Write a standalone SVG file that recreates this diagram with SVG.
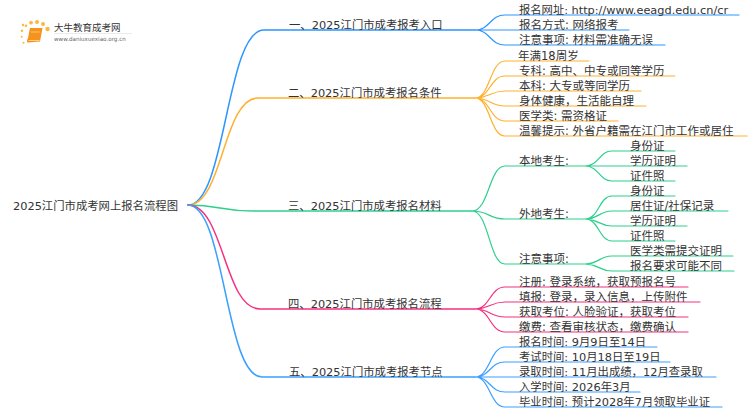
<svg xmlns="http://www.w3.org/2000/svg" width="750" height="410" viewBox="0 0 750 410">
<style>
text{font-family:"DejaVu Sans","Noto Sans CJK SC",sans-serif;font-size:11.5px;fill:#333}
.h text{font-size:11.35px}
.l{fill:none;stroke-linecap:round}
.m{stroke-width:1.5}
.s{stroke-width:1.2}
.a{stroke:#2d95ff}.b{stroke:#ffb02e}.c{stroke:#2ed08e}.d{stroke:#f5307f}.e{stroke:#3ba0ff}
</style>
<rect width="750" height="410" fill="#fff"/>
<g id="connectors">
<g class="l a"><path class="m" d="M188 205C226 205 226 30 264 30H475"/><path class="s" d="M475 30C490 30 490 15 505 15H739M475 30C490 30 490 30 505 30H629M475 30C490 30 490 45 505 45H665"/></g>
<g class="l b"><path class="m" d="M188 205C223 205 223 98 258 98H475"/><path class="s" d="M475 98C490 98 490 61 505 61H589M475 98C490 98 490 76 505 76H675M475 98C490 98 490 91 505 91H641M475 98C490 98 490 106 505 106H646M475 98C490 98 490 121 505 121H618M475 98C490 98 490 136 505 136H747"/></g>
<g class="l c"><path class="m" d="M188 205C220 205 220 211 253 211H472"/><path class="s" d="M472 211C489 211 489 166 505 166H585M472 211C489 211 489 219 505 219H585M472 211C489 211 489 264 505 264H585M585 166C599 166 599 151 612 151H675M585 166C599 166 599 166 612 166H687M585 166C599 166 599 181 612 181H675M585 219C599 219 599 196 612 196H675M585 219C599 219 599 211 612 211H728M585 219C599 219 599 226 612 226H687M585 219C599 219 599 241 612 241H675M585 264C599 264 599 256 612 256H733M585 264C599 264 599 271 612 271H734"/></g>
<g class="l d"><path class="m" d="M188 205C224 205 224 309 260 309H475"/><path class="s" d="M475 309C490 309 490 287 505 287H688M475 309C490 309 490 302 505 302H700M475 309C490 309 490 317 505 317H688M475 309C490 309 490 332 505 332H688"/></g>
<g class="l e"><path class="m" d="M188 205C225 205 225 377 262 377H475"/><path class="s" d="M475 377C490 377 490 347 505 347H657M475 377C490 377 490 362 505 362H670M475 377C490 377 490 377 505 377H716M475 377C490 377 490 392 505 392H640M475 377C490 377 490 407 505 407H722"/></g>
</g>
<g id="logo">
<g fill="#fbb83a"><circle cx="23" cy="25" r="1.200"/><circle cx="26" cy="25.700" r="1.300"/><circle cx="31" cy="22.700" r="1.900"/><circle cx="37" cy="22" r="2"/><circle cx="43" cy="24" r="2"/><circle cx="47.500" cy="29" r="2.200"/><circle cx="22" cy="30.700" r="1.200"/><circle cx="21.700" cy="36.700" r="1"/><circle cx="23.500" cy="42.700" r="1"/></g>
<path d="M30 28H42.500L40 41.500L28 42.500C26.500 42.500 27 40 28 38Z" fill="#f6921e"/><path d="M28.500 40.500H39.500" stroke="#fde3b0" stroke-width=".8"/><path d="M31 32H40" stroke="#fbc56a" stroke-width="1"/>
<text x="54" y="31" style="font-size:9.500px">大牛教育成考网</text>
<text x="54" y="41" style="font-size:5.600px;fill:#666">www.daniuxuexiao.org.cn</text>
<path d="M54 33.500H132" stroke="#ddd" stroke-width=".6"/>
</g>
<g class="h">
<g id="root"><text x="13" y="209.500">2025江门市成考网上报名流程图</text></g>
<g id="b1"><text x="289" y="28.500">一、2025江门市成考报考入口</text></g>
<g id="b2"><text x="288" y="96.500">二、2025江门市成考报名条件</text></g>
<g id="b3"><text x="288" y="209.500">三、2025江门市成考报名材料</text></g>
<g id="b4"><text x="288" y="307.500">四、2025江门市成考报名流程</text></g>
<g id="b5"><text x="289" y="375.500">五、2025江门市成考报考节点</text></g>
</g>
<g id="n1"><text x="519" y="13.500" style="font-size:11.300px">报名网址: http://www.eeagd.edu.cn/cr</text><text x="519" y="28.500">报名方式: 网络报考</text><text x="519" y="43.500">注意事项: 材料需准确无误</text></g>
<g id="n2"><text x="518" y="59.500">年满18周岁</text><text x="519" y="74.500">专科: 高中、中专或同等学历</text><text x="519" y="89.500">本科: 大专或等同学历</text><text x="519" y="104.500">身体健康，生活能自理</text><text x="519" y="119.500">医学类: 需资格证</text><text x="519" y="134.500">温馨提示: 外省户籍需在江门市工作或居住</text></g>
<g id="n3"><text x="519" y="164.500">本地考生:</text><text x="519" y="217.500">外地考生:</text><text x="519" y="262.500">注意事项:</text>
<text x="630" y="149.500">身份证</text><text x="630" y="164.500">学历证明</text><text x="630" y="179.500">证件照</text>
<text x="630" y="194.500">身份证</text><text x="630" y="209.500">居住证/社保记录</text><text x="630" y="224.500">学历证明</text><text x="630" y="239.500">证件照</text>
<text x="630" y="254.500">医学类需提交证明</text><text x="630" y="269.500">报名要求可能不同</text></g>
<g id="n4"><text x="519" y="285.500">注册: 登录系统，获取预报名号</text><text x="519" y="300.500">填报: 登录，录入信息，上传附件</text><text x="519" y="315.500">获取考位: 人脸验证，获取考位</text><text x="519" y="330.500">缴费: 查看审核状态，缴费确认</text></g>
<g id="n5"><text x="519" y="345.500" style="font-size:11.350px">报名时间: 9月9日至14日</text><text x="519" y="360.500" style="font-size:11.350px">考试时间: 10月18日至19日</text><text x="519" y="375.500" style="font-size:11.350px">录取时间: 11月出成绩，12月查录取</text><text x="519" y="390.500" style="font-size:11.350px">入学时间: 2026年3月</text><text x="519" y="405.500" style="font-size:11.350px">毕业时间: 预计2028年7月领取毕业证</text></g>
</svg>
